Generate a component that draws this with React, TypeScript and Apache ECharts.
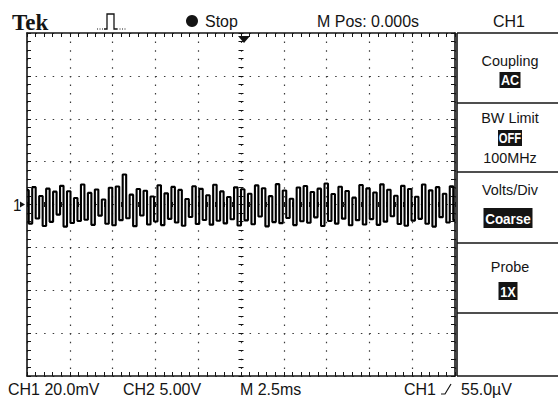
import React, { useEffect, useRef } from "react";
import * as echarts from "echarts";

// Horizontal: 2.5 ms/div, 10 divisions, M Pos 0.000s (centre)
const timeRangeMs = [-12.5, 12.5];
const timePerDivMs = 2.5;
// Vertical: 20.0 mV/div, 8 divisions
const voltRangeMv = [-80, 80];
const voltPerDivMv = 20;

// CH1 trace, mV (alternating crests / troughs)
const traceMv = [
  6.7, -8.9, 8.1, -6.5, 4.0, -10.0, 7.4, -8.1, 6.0, -4.7, 8.7, -10.3, 6.2, -8.6, 3.0, -7.7, 9.3, -7.1, 5.4, -9.5,
  7.0, -5.2, 2.3, -9.0, 7.8, -9.7, 8.4, -7.3, 14.0, -6.4, 4.6, -10.1, 7.2, -5.1, 6.4, -9.3, 3.7, -7.9, 9.0, -9.6,
  5.2, -6.7, 8.2, -8.4, 6.8, -9.9, 2.6, -5.8, 8.5, -9.1, 7.3, -7.2, 4.3, -9.4, 9.2, -7.6, 6.1, -8.8, 3.5, -6.9,
  8.0, -9.8, 7.1, -7.4, 5.0, -9.2, 8.9, -5.6, 7.6, -10.2, 3.9, -8.2, 9.5, -8.7, 6.5, -6.3, 2.7, -9.6, 7.9, -7.8,
  8.6, -8.5, 5.8, -6.0, 7.4, -10.0, 9.8, -7.7, 4.9, -8.9, 8.3, -6.6, 6.3, -9.7, 3.2, -7.3, 9.1, -9.3, 7.5, -6.8,
  5.6, -9.5, 9.4, -8.0, 6.9, -5.5, 4.1, -9.1, 8.7, -9.9, 7.2, -7.5, 3.6, -6.7, 9.3, -9.0, 6.6, -10.3, 8.1, -5.9,
  5.0, -8.4, 8.5, -7.3,
];

const headerLabels = { brand: "Tek", state: "Stop", mpos: "M Pos: 0.000s", channel: "CH1" };
const footerLabels = { ch1: "CH1 20.0mV", ch2: "CH2 5.00V", time: "M 2.5ms", trigCh: "CH1", trigLevel: "55.0\u00b5V" };
const menuTitles = ["Coupling", "BW Limit", "Volts/Div", "Probe"];
const menuValues = ["AC", "OFF", "Coarse", "1X"];
const menuExtra = "100MHz";
const groundMarker = "1";

const FONT = '"Liberation Sans",Arial,sans-serif';
const INK = "#141414";

export default function App() {
  const ref = useRef<HTMLDivElement>(null);

  useEffect(() => {
    if (!ref.current) return;
    const chart = echarts.init(ref.current, undefined, { renderer: "svg" });

    const gl = 27, gt = 33, gw = 428, gh = 343;
    const xMinor = gw / 50;
    const yMinor = gh / 40;

    const step = (timeRangeMs[1] - timeRangeMs[0]) / (traceMv.length - 1);
    const data = traceMv.map((v, i) => [timeRangeMs[0] + i * step, v]);

    const tickStyle = { color: INK, width: 1 };
    const baseX = {
      type: "value" as const,
      min: timeRangeMs[0],
      max: timeRangeMs[1],
      interval: timePerDivMs,
      axisLabel: { show: false },
      splitLine: { show: false },
    };
    const baseY = {
      type: "value" as const,
      min: voltRangeMv[0],
      max: voltRangeMv[1],
      interval: voltPerDivMv,
      axisLabel: { show: false },
      splitLine: { show: false },
    };
    const border = (pos: string, extra: any = {}) => ({
      position: pos,
      axisLine: { show: true, onZero: false, lineStyle: { color: INK, width: 1.6 } },
      axisTick: { show: true, inside: true, length: 4, lineStyle: tickStyle },
      minorTick: { show: true, splitNumber: 5, length: 4, lineStyle: tickStyle },
      ...extra,
    });
    const centre = (pos: string, offset: number, inside: boolean) => ({
      position: pos,
      offset,
      axisLine: { show: false, onZero: false },
      axisTick: { show: true, inside, length: 2.5, lineStyle: tickStyle },
      minorTick: { show: true, splitNumber: 5, length: 2.5, lineStyle: tickStyle },
    });

    const t = (text: string, x: number, y: number, size: number, extra: any = {}) => ({
      type: "text",
      silent: true,
      x,
      y,
      scaleX: extra.sx || 1,
      style: {
        text,
        x: 0,
        y: 0,
        fill: extra.fill || INK,
        font: `${extra.weight || "normal"} ${size}px ${extra.family || FONT}`,
        align: extra.align || "left",
        verticalAlign: "middle",
      },
    });
    const inv = (text: string, cx: number, cy: number, w: number, h: number, size: number, sx = 0.9) => [
      { type: "rect", shape: { x: cx - w / 2, y: cy - h / 2, width: w, height: h }, style: { fill: INK } },
      t(text, cx, cy + 0.5, size, { align: "center", weight: "bold", fill: "#ffffff", sx }),
    ];
    const hline = (x1: number, x2: number, y: number, w = 1.6) => ({
      type: "line",
      shape: { x1, y1: y, x2, y2: y },
      style: { stroke: INK, lineWidth: w },
    });

    const px = 457, pr = 558, pcx = 510;
    const seps = [33, 103, 172, 243, 313, 376];
    const hs = 17, hsx = 0.94;
    const ms = 15, msx = 0.96;

    const graphic: any[] = [
      // header
      t(headerLabels.brand, 12, 22, 23, { weight: "bold", family: '"Liberation Serif","DejaVu Serif",serif' }),
      { type: "polyline", shape: { points: [[104, 29], [107, 29], [107, 14], [114, 14], [114, 29], [117, 29]] }, style: { stroke: INK, lineWidth: 1.3, fill: "none" } },
      { type: "line", shape: { x1: 97, y1: 29, x2: 104, y2: 29 }, style: { stroke: INK, lineWidth: 1, lineDash: [1, 1.5] } },
      { type: "line", shape: { x1: 117, y1: 29, x2: 127, y2: 29 }, style: { stroke: INK, lineWidth: 1, lineDash: [1, 1.5] } },
      { type: "circle", shape: { cx: 192, cy: 21, r: 6 }, style: { fill: INK } },
      t(headerLabels.state, 205, 21, hs, { sx: hsx }),
      t(headerLabels.mpos, 317, 21, hs, { sx: hsx }),
      t(headerLabels.channel, 509, 21, hs, { align: "center", sx: hsx }),
      // trigger position marker
      { type: "polygon", shape: { points: [[238, 36], [250, 36], [244, 43]] }, style: { fill: INK } },
      // ground marker
      t(groundMarker, 13, 205, 16, { sx: hsx }),
      { type: "polygon", shape: { points: [[20, 201.5], [25, 204.5], [20, 207.5]] }, style: { fill: INK } },
      // side menu frame
      { type: "line", shape: { x1: px, y1: seps[0], x2: px, y2: seps[5] }, style: { stroke: INK, lineWidth: 1.6 } },
      ...seps.map((y) => hline(px, pr, y)),
      // menu entries
      t(menuTitles[0], pcx, 61, ms, { align: "center", sx: msx }),
      ...inv(menuValues[0], pcx, 80, 21, 16, 14),
      t(menuTitles[1], pcx, 118, ms, { align: "center", sx: msx }),
      ...inv(menuValues[1], pcx, 138, 24, 16, 14, 0.8),
      t(menuExtra, pcx, 158, ms, { align: "center", sx: msx }),
      t(menuTitles[2], pcx, 190, ms, { align: "center", sx: msx }),
      ...inv(menuValues[2], 508, 218, 49, 20, 15, 0.9),
      t(menuTitles[3], pcx, 267, ms, { align: "center", sx: msx }),
      ...inv(menuValues[3], 508, 291, 19, 18, 15, 0.85),
      // footer
      t(footerLabels.ch1, 8, 389, hs, { sx: hsx }),
      t(footerLabels.ch2, 123, 389, hs, { sx: hsx }),
      t(footerLabels.time, 240, 389, hs, { sx: hsx }),
      t(footerLabels.trigCh, 404, 389, hs, { sx: hsx }),
      { type: "polyline", shape: { points: [[441, 394], [445, 394], [451, 384]] }, style: { stroke: INK, lineWidth: 1.2, fill: "none" } },
      t(footerLabels.trigLevel, 461, 389, hs, { sx: hsx }),
    ];

    chart.setOption({
      animation: false,
      backgroundColor: "#ffffff",
      grid: { left: gl, top: gt, width: gw, height: gh, show: false },
      xAxis: [
        {
          ...baseX,
          ...border("bottom"),
          splitLine: { show: true, lineStyle: { color: "#3a3a3a", width: 1.2, type: [1.5, yMinor - 1.5] } },
        },
        { ...baseX, ...border("top") },
        { ...baseX, ...centre("bottom", -gh / 2, true) },
        { ...baseX, ...centre("bottom", -gh / 2, false) },
      ],
      yAxis: [
        {
          ...baseY,
          ...border("left"),
          splitLine: { show: true, lineStyle: { color: "#3a3a3a", width: 1.2, type: [1.5, xMinor - 1.5] } },
        },
        { ...baseY, ...border("right") },
        { ...baseY, ...centre("left", -gw / 2, true) },
        { ...baseY, ...centre("left", -gw / 2, false) },
      ],
      series: [
        {
          type: "line",
          xAxisIndex: 0,
          yAxisIndex: 0,
          data,
          step: "middle",
          showSymbol: false,
          symbol: "none",
          lineStyle: { color: "#000000", width: 2.1 },
          z: 5,
        },
      ],
      graphic,
    });

    return () => chart.dispose();
  }, []);

  return (
    <div
      ref={ref}
      style={{ position: "fixed", left: 0, top: 0, width: 558, height: 401, background: "#fff" }}
    />
  );
}
